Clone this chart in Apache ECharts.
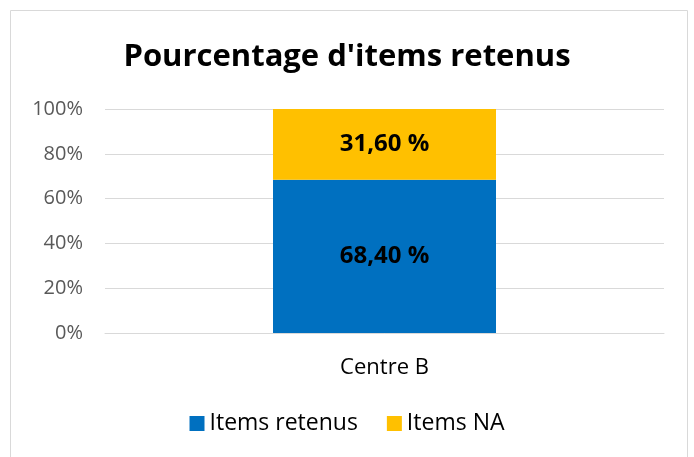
<!DOCTYPE html>
<html>
<head>
<meta charset="utf-8">
<script src="https://cdn.jsdelivr.net/npm/echarts@6/dist/echarts.min.js"></script>
<style>
  html, body { margin: 0; padding: 0; background: #fff; }
  #main { width: 694px; height: 457px; }
</style>
</head>
<body>
<div id="main"></div>
<script>
// données
const categories = ['Centre B']
const retenus = [68.4]
const na = [31.6]
const yTicks = [0, 20, 40, 60, 80, 100]

const fmt = v => v.toFixed(2).replace('.', ',') + ' %'

const chart = echarts.init(document.getElementById('main'))
const option = {
  animation: false,
  title: {
    text: "Pourcentage d'items retenus",
    left: 'center',
    top: 37,
    textStyle: { fontFamily: 'Open Sans', fontWeight: 'bold', fontSize: 31, color: '#000' }
  },
  graphic: [{
    type: 'rect',
    shape: { x: 10.5, y: 10.5, width: 677, height: 470 },
    style: { fill: 'none', stroke: '#d9d9d9', lineWidth: 1 },
    silent: true
  }],
  legend: {
    bottom: 17,
    left: 'center',
    itemWidth: 15,
    itemHeight: 15,
    itemGap: 29,
    icon: 'rect',
    textStyle: { fontFamily: 'Open Sans', fontSize: 23, color: '#000' },
    data: ['Items retenus', 'Items NA']
  },
  grid: { left: 105, right: 30, top: 109, bottom: 124 },
  xAxis: {
    type: 'category',
    data: categories,
    axisTick: { show: false },
    axisLine: { lineStyle: { color: '#d9d9d9', width: 1 } },
    axisLabel: { fontFamily: 'Open Sans', fontSize: 22, color: '#000', margin: 24 }
  },
  yAxis: {
    type: 'value',
    min: yTicks[0],
    max: yTicks[yTicks.length - 1],
    interval: 20,
    axisLine: { show: false },
    axisTick: { show: false },
    splitLine: { lineStyle: { color: '#d9d9d9', width: 1 } },
    axisLabel: { fontFamily: 'Open Sans', fontSize: 20, color: '#595959', margin: 22, formatter: '{value}%' }
  },
  series: [
    {
      name: 'Items retenus',
      type: 'bar',
      stack: 'total',
      barWidth: 223,
      data: retenus,
      itemStyle: { color: '#0070C0' },
      label: { show: true, position: 'inside', fontFamily: 'Open Sans', fontWeight: 'bold', fontSize: 24, color: '#000', formatter: p => fmt(p.value) }
    },
    {
      name: 'Items NA',
      type: 'bar',
      stack: 'total',
      barWidth: 223,
      data: na,
      itemStyle: { color: '#FFC000' },
      label: { show: true, position: 'inside', fontFamily: 'Open Sans', fontWeight: 'bold', fontSize: 24, color: '#000', formatter: p => fmt(p.value) }
    }
  ]
}
chart.setOption(option)
</script>
</body>
</html>
